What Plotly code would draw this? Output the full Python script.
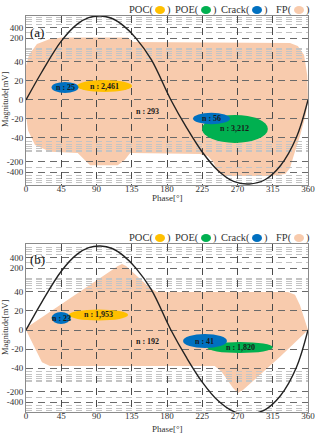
import math
import plotly.graph_objects as go

# ---------------- data ----------------
phase_ticks = [0, 45, 90, 135, 180, 225, 270, 315, 360]
mag_ticks = [400, 200, 40, 20, 0, -20, -40, -200, -400]
mag_minor = [50, 60, 70, 80, 90, 100, 300, 500, 600, 700, 800,
             -50, -60, -70, -80, -90, -100, -300, -500, -600, -700, -800]

# reference voltage wave (normalised level)
wave_phase = [0, 20, 45, 65, 80, 95, 110, 125, 140, 160, 185, 205, 225, 245, 265, 285, 305, 325, 345, 360]
wave_level = [0, 0.33, 0.70, 0.90, 0.98, 1.0, 0.97, 0.88, 0.74, 0.48, 0, -0.33, -0.62, -0.84, -0.97, -1.0, -0.95, -0.78, -0.45, 0]

# FP (noise) region outlines, phase [deg] / magnitude [mV]
fp_a_phase = [0, 3.8, 14, 30.6, 46, 130, 137, 337, 347, 355, 359, 360, 357, 350, 342, 337, 331, 312,
              254, 245, 239, 232, 222, 133, 126, 117, 82, 75, 66, 31, 11.5, 2.6, 0]
fp_a_mag = [36, 64, 134, 188, 208, 208, 153, 144, 117, 64, 26, 0, -16, -37, -126, -300, -452, -516,
            -516, -394, -201, -134, -117, -110, -176, -249, -249, -176, -110, -101, -64, -32, -16]
fp_b_phase = [0, 117.4, 122.6, 127.7, 158.3, 167.2, 334.5, 343.4, 349.8, 360, 324.7, 277, 270.6,
              264.3, 250, 241, 30.6, 20.4, 0]
fp_b_mag = [2, 231, 264, 231, 52, 40, 40, 37, 26, 0, -28, -176, -215, -153, -52, -38, -38, -34, 0]

# clusters: type, centre phase, centre magnitude, phase spread, magnitude spread, count
cl_a_type = ["POC", "Crack", "POE", "Crack"]
cl_a_phase = [100.2, 49.8, 266.8, 236.8]
cl_a_mag = [14.7, 13.2, -30.5, -19.5]
cl_a_dph = [35.1, 17.2, 42.0, 23.6]
cl_a_dmag = [6.3, 5.8, 14.7, 6.0]
cl_a_n = ["2,461", "25", "3,212", "56"]
fp_a_n = "293"

cl_b_type = ["POC", "Crack", "POE", "Crack"]
cl_b_phase = [92.6, 44.7, 273.2, 228.5]
cl_b_mag = [15.8, 12.6, -18.4, -11.6]
cl_b_dph = [37.7, 12.1, 42.0, 28.0]
cl_b_dmag = [5.8, 6.3, 5.8, 7.4]
cl_b_n = ["1,953", "23", "1,820", "41"]
fp_b_n = "192"

legend_names = ["POC", "POE", "Crack", "FP"]

COL = {"POC": "#FFC000", "POE": "#00B050", "Crack": "#0070C0", "FP": "#F8CBAD"}

# ---------------- helpers ----------------
W, H = 317, 434
ML, MR = 26, 9
PW = W - ML - MR
SERIF = "Liberation Serif, Times New Roman, serif"


def tr(v):
    """piecewise linear/log magnitude scale"""
    a = abs(v)
    if a <= 40:
        return v
    s = 1 if v > 0 else -1
    return s * (40 + 36 * math.log10(a / 40))


def pxx(px):
    return (px - ML) / PW


def pxy(py):
    return (H - py) / H


fig = go.Figure()
shapes = []
annotations = []


def note(text, x, y, size, color="#333", xa="center", ya="middle", xref="paper", yref="paper", angle=0):
    annotations.append(dict(x=x, y=y, xref=xref, yref=yref, text=text, showarrow=False,
                            xanchor=xa, yanchor=ya, textangle=angle,
                            font=dict(family=SERIF, size=size, color=color)))


panels = [
    dict(xa="x", ya="y", dom=[pxy(185), pxy(16)], rng=[-89.5, 88.4], fp=(fp_a_phase, fp_a_mag),
         cl=(cl_a_type, cl_a_phase, cl_a_mag, cl_a_dph, cl_a_dmag, cl_a_n), fpn=fp_a_n,
         label="(a)", label_y=32, leg_y=10, title_y=198, zero_y=100),
    dict(xa="x2", ya="y2", dom=[pxy(412), pxy(244)], rng=[-86.3, 90.5], fp=(fp_b_phase, fp_b_mag),
         cl=(cl_b_type, cl_b_phase, cl_b_mag, cl_b_dph, cl_b_dmag, cl_b_n), fpn=fp_b_n,
         label="(b)", label_y=259, leg_y=238, title_y=429, zero_y=328),
]

axis_common = dict(showline=True, mirror=True, linecolor="#8a8a8a", linewidth=1, zeroline=False,
                   ticks="", tickfont=dict(family=SERIF, size=9, color="#333"), automargin=False)

for i, p in enumerate(panels):
    sfx = "" if i == 0 else "2"
    # FP region (below grid)
    ph, mg = p["fp"]
    path = "M " + " L ".join(f"{a},{tr(b):.3f}" for a, b in zip(ph, mg)) + " Z"
    shapes.append(dict(type="path", path=path, xref=p["xa"], yref=p["ya"], layer="below",
                       fillcolor=COL["FP"], line=dict(width=0)))
    # cluster ellipses (above grid)
    typ, cph, cmg, dph, dmg, nn = p["cl"]
    for t, a, b, da, db, n in zip(typ, cph, cmg, dph, dmg, nn):
        shapes.append(dict(type="circle", xref=p["xa"], yref=p["ya"], layer="above",
                           x0=a - da, x1=a + da, y0=tr(b) - db, y1=tr(b) + db,
                           fillcolor=COL[t], line=dict(width=0)))
        note(f"<b>n : {n}</b>", a, tr(b), 8, "#1a1a1a", xref=p["xa"], yref=p["ya"])
    note(f"<b>n : {p['fpn']}</b>", 154.5, -12, 8, "#1a1a1a", xref=p["xa"], yref=p["ya"])
    # reference wave
    amp = 88.4
    fig.add_trace(go.Scatter(x=wave_phase, y=[amp * l for l in wave_level], xaxis=p["xa"], yaxis=p["ya"],
                             mode="lines", line=dict(color="#222", width=1.4, shape="spline", smoothing=1.0),
                             hoverinfo="skip", showlegend=False, cliponaxis=True))
    # axes
    fig.update_layout(**{
        "xaxis" + sfx: dict(axis_common, domain=[0, 1], anchor="y" + sfx, range=[0, 360],
                            tickmode="array", tickvals=phase_ticks, ticktext=[str(v) for v in phase_ticks],
                            ticklabelstandoff=-5,
                            showgrid=True, gridcolor="#4a4a4a", griddash="7px,5px", gridwidth=0.9),
        "yaxis" + sfx: dict(axis_common, domain=p["dom"], anchor="x" + sfx, range=p["rng"],
                            tickmode="array", tickvals=[tr(v) for v in mag_ticks],
                            ticktext=[str(v) for v in mag_ticks],
                            showgrid=True, gridcolor="#6a6a6a", griddash="7px,5px", gridwidth=0.9,
                            minor=dict(tickmode="array", tickvals=[tr(v) for v in mag_minor],
                                       showgrid=True, gridcolor="#c4c4c4", griddash="6px,4px",
                                       gridwidth=0.8)),
    })
    # panel label
    note(p["label"], pxx(37), pxy(p["label_y"]), 13, "#111")
    # axis titles
    note("Phase[°]", 0.5, pxy(p["title_y"]), 9)
    note("Magnitude[mV]", pxx(5), pxy(p["zero_y"]), 8.5, angle=-90)
    # legend row
    circ_x = [160, 206, 257, 299]
    for name, cx in zip(legend_names, circ_x):
        note(name + "(", pxx(cx - 5), pxy(p["leg_y"]), 10.5, xa="right")
        shapes.append(dict(type="circle", xref="paper", yref="paper", x0=pxx(cx - 5), x1=pxx(cx + 5),
                           y0=pxy(p["leg_y"] + 4), y1=pxy(p["leg_y"] - 4), fillcolor=COL[name],
                           line=dict(width=0)))
        note(")", pxx(cx + 5), pxy(p["leg_y"]), 10.5, xa="left")

fig.update_layout(width=W, height=H, margin=dict(l=ML, r=MR, t=0, b=0, autoexpand=False),
                  paper_bgcolor="white", plot_bgcolor="white", template="none",
                  shapes=shapes, annotations=annotations, showlegend=False)

fig.write_html("out.html")
